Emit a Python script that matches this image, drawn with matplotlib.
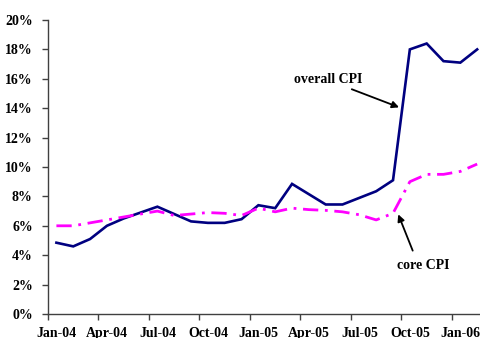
import matplotlib
matplotlib.use("Agg")
import matplotlib.pyplot as plt

months = ["Jan-04", "Feb-04", "Mar-04", "Apr-04", "May-04", "Jun-04", "Jul-04",
          "Aug-04", "Sep-04", "Oct-04", "Nov-04", "Dec-04", "Jan-05", "Feb-05",
          "Mar-05", "Apr-05", "May-05", "Jun-05", "Jul-05", "Aug-05", "Sep-05",
          "Oct-05", "Nov-05", "Dec-05", "Jan-06", "Feb-06"]
overall_cpi = [4.85, 4.6, 5.1, 6.0, 6.5, 6.9, 7.3, 6.8, 6.3, 6.2, 6.2, 6.45, 7.4,
               7.2, 8.85, 8.15, 7.45, 7.45, 7.9, 8.35, 9.1, 18.0, 18.4, 17.2,
               17.1, 18.0]
core_cpi = [6.0, 6.0, 6.2, 6.4, 6.6, 6.8, 7.0, 6.7, 6.8, 6.9, 6.85, 6.7, 7.2,
            6.95, 7.2, 7.1, 7.05, 6.95, 6.75, 6.4, 6.85, 9.0, 9.5, 9.5, 9.7, 10.2]
y_ticks = [0, 2, 4, 6, 8, 10, 12, 14, 16, 18, 20]
label_every = 3

W, H = 481, 338
fig = plt.figure(figsize=(W / 100, H / 100), dpi=100)
left_px, bottom_px, top_px = 48, 314, 20
cat_px = 16.83
width_px = cat_px * len(months)
ax = fig.add_axes([left_px / W, (H - bottom_px) / H, width_px / W,
                   (bottom_px - top_px) / H])

font = dict(family="Liberation Serif", weight="bold", size=10)

x = list(range(len(months)))
ax.plot(x, overall_cpi, color="#000080", lw=1.9, solid_joinstyle="miter")
ax.plot(x, core_cpi, color="#FF00FF", lw=2.0, linestyle=(0, (5.5, 2.4, 1.0, 2.4)))

ax.set_xlim(-0.5, len(months) - 0.5)
ax.set_ylim(0, 20)

# category boundaries carry the tick marks, labels sit at category centres
ax.set_xticks([i - 0.5 for i in range(0, len(months), label_every)])
ax.set_xticklabels([])
ax.set_xticks(x[::label_every], minor=True)
ax.set_xticklabels(months[::label_every], minor=True, fontdict=font)
ax.tick_params(axis="x", which="major", direction="out", length=4, width=1,
               color="#404040")
ax.tick_params(axis="x", which="minor", length=0, pad=9.5)

ax.set_yticks(y_ticks)
ax.set_yticklabels([f"{v}%" for v in y_ticks], fontdict=font)
ax.tick_params(axis="y", direction="out", length=4, width=1, color="#404040", pad=7)

for side in ("top", "right"):
    ax.spines[side].set_visible(False)
for side in ("left", "bottom"):
    ax.spines[side].set_color("#404040")
    ax.spines[side].set_linewidth(1.0)

arrow = dict(arrowstyle="-|>", color="black", lw=1.3, mutation_scale=10,
             shrinkA=0, shrinkB=0)
ax.text(16.14, 15.92, "overall CPI", ha="center", va="center", **font)
ax.annotate("", xy=(20.36, 14.06), xytext=(17.55, 15.29), arrowprops=arrow)
ax.text(21.78, 3.33, "core CPI", ha="center", va="center", **font)
ax.annotate("", xy=(20.31, 6.78), xytext=(21.17, 4.31), arrowprops=arrow)

fig.savefig("out.png", dpi=100)
